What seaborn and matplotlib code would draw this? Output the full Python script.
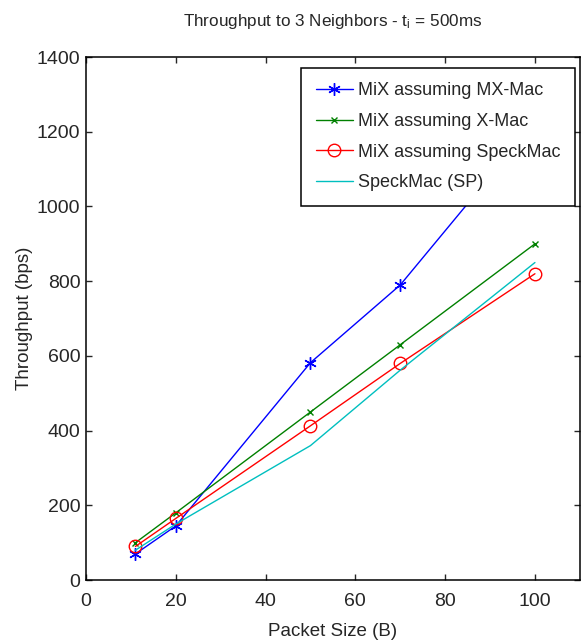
import matplotlib
matplotlib.use("Agg")
import matplotlib.pyplot as plt
import seaborn as sns
import pandas as pd

# values
packet_size = [11, 20, 50, 70, 100]
mx_mac = [70, 145, 582, 790, 1225]
x_mac = [100, 180, 450, 630, 900]
mix_speckmac = [90, 165, 413, 580, 820]
speckmac_sp = [80, 150, 360, 562, 850]

series_names = ["MiX assuming MX-Mac", "MiX assuming X-Mac",
                "MiX assuming SpeckMac", "SpeckMac (SP)"]
x_ticks = [0, 20, 40, 60, 80, 100]
y_ticks = [0, 200, 400, 600, 800, 1000, 1200, 1400]

sns.set_style("ticks")
plt.rcParams['font.family'] = ['Liberation Sans', 'DejaVu Sans']
plt.rcParams['mathtext.default'] = 'regular'

fig = plt.figure(figsize=(5.81, 6.41), dpi=100)
ax = fig.add_axes([0.148, 0.095, 0.85, 0.816])

styles = [
    (mx_mac, "#0000ff", (6, 2, 0), 9, "full"),
    (x_mac, "#008000", "x", 5, "full"),
    (mix_speckmac, "#ff0000", "o", 9, "none"),
    (speckmac_sp, "#00bfbf", None, 0, "full"),
]
for name, (vals, color, marker, ms, fill) in zip(series_names, styles):
    df = pd.DataFrame({"size": packet_size, "tp": vals})
    sns.lineplot(data=df, x="size", y="tp", ax=ax, color=color, lw=1,
                 marker=marker, markersize=ms, fillstyle=fill,
                 markeredgecolor=color, markeredgewidth=1, label=name)

ax.set_xlim(0, 110)
ax.set_ylim(0, 1400)
ax.set_xticks(x_ticks)
ax.set_yticks(y_ticks)
ax.tick_params(direction="in", length=4, width=1, labelsize=14,
               top=True, right=True)
ax.tick_params(axis="x", pad=9)
ax.tick_params(axis="y", pad=4)
for s in ax.spines.values():
    s.set_linewidth(1.1)
    s.set_color("black")

ax.set_title("Throughput to 3 Neighbors - t$_i$ = 500ms", fontsize=12.3, pad=22)
ax.set_xlabel("Packet Size (B)", fontsize=13.5, labelpad=10)
ax.set_ylabel("Throughput (bps)", fontsize=13.5, labelpad=3)

leg = ax.legend(loc="upper right", bbox_to_anchor=(0.99, 0.979),
                borderaxespad=0, fontsize=13, fancybox=False, framealpha=1,
                edgecolor="black", handlelength=2.1, labelspacing=0.75,
                borderpad=0.8, handletextpad=0.25)
leg.get_frame().set_linewidth(1.1)

fig.savefig("out.png", dpi=100)
